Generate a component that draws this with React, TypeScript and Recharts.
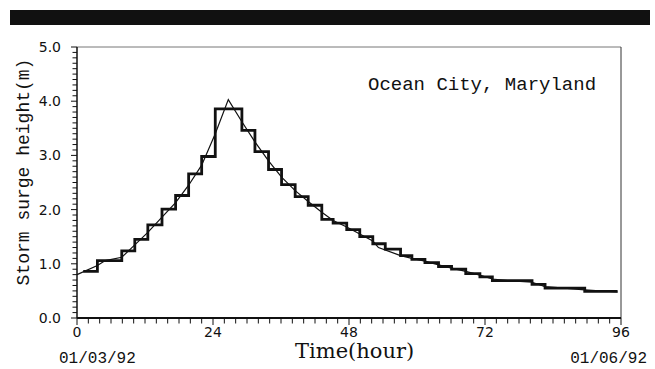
import { LineChart, Line, XAxis, YAxis, ReferenceLine } from "recharts";

// hours and storm surge (m)
const modelHours = [0, 3.6, 5, 7.9, 10.2, 12.5, 15, 17.4, 19.7, 22, 24.4, 26.7, 29.1, 31.4, 33.8, 36.1, 38.5, 40.8, 43.2, 45.2, 47.6, 49.9, 52.2, 53.2, 57.1, 59.1, 61.4, 63.8, 66.1, 68.6, 71.1, 73.3, 76, 80.3, 82.6, 86, 89.6, 95.4];
const modelSurge = [0.8, 0.97, 1.06, 1.12, 1.35, 1.58, 1.86, 2.13, 2.45, 2.82, 3.4, 4.03, 3.62, 3.25, 2.9, 2.6, 2.35, 2.15, 1.95, 1.8, 1.68, 1.55, 1.42, 1.3, 1.15, 1.1, 1.05, 0.98, 0.92, 0.86, 0.79, 0.72, 0.69, 0.66, 0.58, 0.55, 0.52, 0.48];

const stepHours = [1.1, 3.6, 7.9, 10.2, 12.5, 15, 17.4, 19.7, 22, 24.4, 29.1, 31.4, 33.8, 36.1, 38.5, 40.8, 43.2, 45.2, 47.6, 49.9, 52.2, 54.4, 57.1, 59.1, 61.4, 63.8, 66.1, 68.6, 71.1, 73.3, 80.3, 82.6, 89.6, 95.4];
const stepSurge = [0.86, 1.06, 1.24, 1.45, 1.72, 2.01, 2.26, 2.66, 2.98, 3.86, 3.46, 3.07, 2.74, 2.46, 2.24, 2.08, 1.82, 1.75, 1.63, 1.5, 1.37, 1.27, 1.15, 1.08, 1.02, 0.95, 0.9, 0.82, 0.76, 0.69, 0.62, 0.55, 0.49, 0.49];

const majorX = [0, 24, 48, 72, 96];
const majorY = [0, 1, 2, 3, 4, 5];
const xTicks = Array.from({ length: 49 }, (_, i) => i * 2);
const yTicks = Array.from({ length: 51 }, (_, i) => i / 10);

const modelData = modelHours.map((h, i) => ({ h, v: modelSurge[i] }));
const stepData = stepHours.map((h, i) => ({ h, v: stepSurge[i] }));

const ink = "#111";

const YTick = (props: any) => {
  const { x, y, payload } = props;
  const major = majorY.some((m) => Math.abs(m - payload.value) < 1e-6);
  return (
    <g>
      <line x1={x} x2={x - (major ? 6 : 4.5)} y1={y} y2={y} stroke={ink} strokeWidth={1} />
      {major && (
        <text x={x - 16} y={y} textAnchor="end" dominantBaseline="central" fontFamily="DejaVu Sans" fontSize={14} fill={ink}>
          {payload.value.toFixed(1)}
        </text>
      )}
    </g>
  );
};

const XTick = (props: any) => {
  const { x, y, payload } = props;
  const major = majorX.includes(payload.value);
  return (
    <g>
      <line x1={x} x2={x} y1={y} y2={y + (major ? 7 : 5.5)} stroke={ink} strokeWidth={1} />
      {major && (
        <text x={x} y={y + 14} textAnchor="middle" dominantBaseline="central" fontFamily="DejaVu Sans" fontSize={14} fill={ink}>
          {payload.value}
        </text>
      )}
    </g>
  );
};

export default function App() {
  return (
    <div style={{ position: "relative", width: 655, height: 369, background: "#fff", overflow: "hidden" }}>
      <style>{"body{margin:0}"}</style>
      <div style={{ position: "absolute", left: 10, top: 10, width: 640, height: 15, background: "#111" }} />

      <LineChart width={655} height={369} margin={{ top: 47, right: 34, left: 0, bottom: 0 }}>
        <XAxis
          dataKey="h"
          type="number"
          domain={[0, 96]}
          ticks={xTicks}
          interval={0}
          height={51}
          tickSize={0}
          tickMargin={0}
          tickLine={false}
          tick={<XTick />}
          axisLine={{ stroke: ink, strokeWidth: 2 }}
        />
        <YAxis
          type="number"
          domain={[0, 5]}
          ticks={yTicks}
          interval={0}
          width={77}
          tickSize={0}
          tickMargin={0}
          tickLine={false}
          tick={<YTick />}
          axisLine={{ stroke: ink, strokeWidth: 1.5 }}
        />
        <ReferenceLine y={5} stroke="#777" strokeWidth={1} />
        <ReferenceLine x={96} stroke="#333" strokeWidth={1} />
        <Line data={modelData} dataKey="v" type="linear" stroke={ink} strokeWidth={1.2} dot={false} isAnimationActive={false} />
        <Line data={stepData} dataKey="v" type="stepAfter" stroke={ink} strokeWidth={2.8} dot={false} isAnimationActive={false} />
      </LineChart>

      <div style={{ position: "absolute", left: 368, top: 74, fontFamily: "Liberation Mono", fontSize: 19, color: ink, whiteSpace: "nowrap" }}>
        Ocean City, Maryland
      </div>
      <div
        style={{
          position: "absolute",
          left: 24,
          top: 172,
          transform: "translate(-50%, -50%) rotate(-90deg)",
          fontFamily: "Liberation Mono",
          fontSize: 18,
          color: ink,
          whiteSpace: "nowrap",
        }}
      >
        Storm surge height(m)
      </div>
      <div style={{ position: "absolute", left: 295, top: 341, fontFamily: "DejaVu Serif", fontSize: 21, lineHeight: "21px", color: ink, whiteSpace: "nowrap" }}>
        Time(hour)
      </div>
      <div style={{ position: "absolute", left: 59, top: 350, fontFamily: "Liberation Mono", fontSize: 16, color: ink, whiteSpace: "nowrap" }}>
        01/03/92
      </div>
      <div style={{ position: "absolute", right: 8, top: 350, fontFamily: "Liberation Mono", fontSize: 16, color: ink, whiteSpace: "nowrap" }}>
        01/06/92
      </div>
    </div>
  );
}
